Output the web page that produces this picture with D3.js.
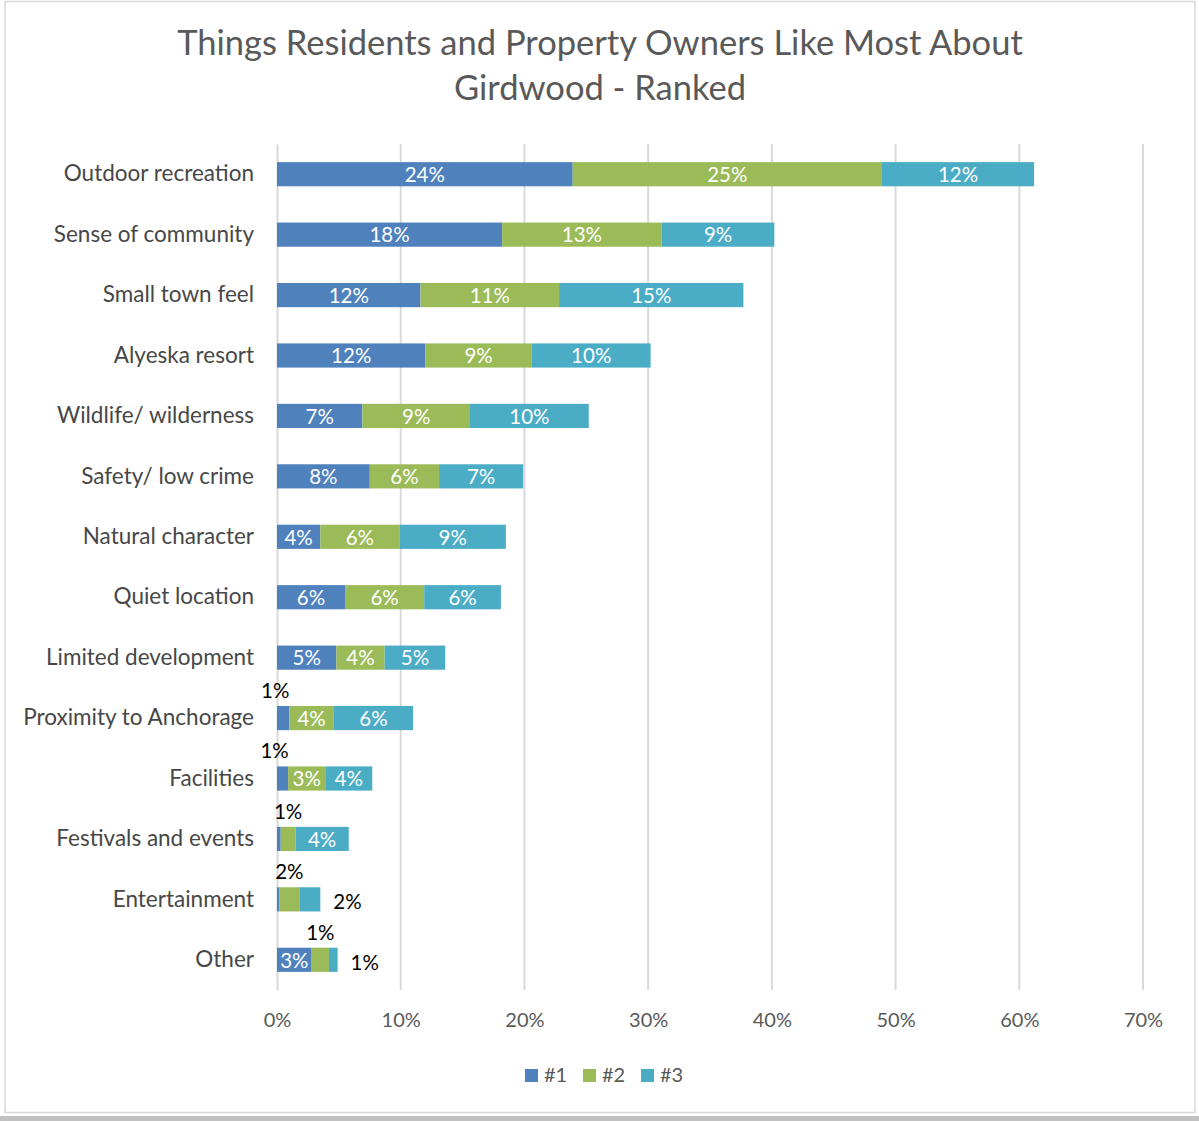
<!DOCTYPE html>
<html><head><meta charset="utf-8">
<script src="https://cdn.jsdelivr.net/npm/d3@7"></script>
<style>body{margin:0;background:#fff}svg{display:block}</style>
</head><body>
<script>
const categories = ["Outdoor recreation","Sense of community","Small town feel","Alyeska resort","Wildlife/ wilderness","Safety/ low crime","Natural character","Quiet location","Limited development","Proximity to Anchorage","Facilities","Festivals and events","Entertainment","Other"];
const seriesNames = ["#1","#2","#3"];
const rank1 = [23.9,18.2,11.6,12.0,6.9,7.5,3.5,5.5,4.8,1.0,0.9,0.3,0.2,2.8];
const rank2 = [25.0,12.9,11.2,8.6,8.7,5.6,6.4,6.4,3.9,3.6,3.0,1.2,1.6,1.4];
const rank3 = [12.3,9.1,14.9,9.6,9.6,6.8,8.6,6.2,4.9,6.4,3.8,4.3,1.7,0.7];
const xTicks = [0,10,20,30,40,50,60,70];
// label placement per series: "in" inside, "up" above, "right" after the bar, "none"
const labelMode1 = ["in","in","in","in","in","in","in","in","in","up","up","none","none","in"];
const labelMode2 = ["in","in","in","in","in","in","in","in","in","in","in","up","up","up"];
const labelMode3 = ["in","in","in","in","in","in","in","in","in","in","in","in","right","right"];

const W=1199,H=1121;
const colors=["#4F81BD","#9BBB59","#4BACC6"];
const font="Lato, 'Open Sans', sans-serif";
const svg=d3.select("body").append("svg").attr("width",W).attr("height",H);
svg.append("rect").attr("x",0).attr("y",0).attr("width",W).attr("height",H).attr("fill","#fff");
svg.append("rect").attr("x",5).attr("y",1.5).attr("width",1190).attr("height",1111).attr("fill","none").attr("stroke","#d9d9d9").attr("stroke-width",1.5);
svg.append("rect").attr("x",0).attr("y",1116).attr("width",W).attr("height",5).attr("fill","#c0c0c0");

const x=d3.scaleLinear().domain([0,70]).range([277,1143]);
const y=d3.scaleBand().domain(categories).range([144,990]).paddingInner(0.6).paddingOuter(0.3);

// title
const title=svg.append("text").attr("text-anchor","middle").attr("fill","#595959").attr("font-family",font).attr("font-size",34.5).attr("font-weight",400);
title.append("tspan").attr("x",600).attr("y",55).text("Things Residents and Property Owners Like Most About");
title.append("tspan").attr("x",600).attr("y",100).text("Girdwood - Ranked");

// gridlines
svg.append("g").selectAll("line").data(xTicks.slice(1)).join("line")
 .attr("x1",d=>x(d)).attr("x2",d=>x(d)).attr("y1",144).attr("y2",990)
 .attr("stroke","#d9d9d9").attr("stroke-width",2);

// x axis
const xAxis=svg.append("g").attr("transform","translate(0,1010)")
 .call(d3.axisBottom(x).tickValues(xTicks).tickFormat(d=>d+"%").tickSize(0));
xAxis.select(".domain").remove();
xAxis.selectAll("text").attr("font-family",font).attr("font-size",20).attr("fill","#595959");

// y axis
const yAxis=svg.append("g").attr("transform","translate(277,0)")
 .call(d3.axisLeft(y).tickSize(0).tickPadding(23));
yAxis.select(".domain").attr("stroke","#d9d9d9").attr("stroke-width",2);
yAxis.selectAll("text").attr("font-family",font).attr("font-size",22.5).attr("fill","#474747");

// stack
const table=categories.map((c,i)=>({cat:c,"#1":rank1[i],"#2":rank2[i],"#3":rank3[i]}));
const stack=d3.stack().keys(seriesNames)(table);
const modes=[labelMode1,labelMode2,labelMode3];
const bh=y.bandwidth();

const layers=svg.append("g").selectAll("g").data(stack).join("g").attr("fill",(d,i)=>colors[i]);
layers.selectAll("rect").data(d=>d).join("rect")
 .attr("x",d=>x(d[0])).attr("width",d=>x(d[1])-x(d[0]))
 .attr("y",d=>y(d.data.cat)).attr("height",bh);

// labels
const lab=svg.append("g").attr("font-family",font).attr("font-size",20.5);
stack.forEach((s,si)=>{
  s.forEach((d,i)=>{
    const m=modes[si][i];
    if(m==="none") return;
    const v=d[1]-d[0];
    const txt=Math.round(v)+"%";
    const cy=y(d.data.cat)+bh/2;
    const cx=(x(d[0])+x(d[1]))/2;
    if(m==="in"){
      lab.append("text").attr("x",cx).attr("y",cy).attr("dy","0.38em").attr("text-anchor","middle").attr("fill","#fff").text(txt);
    } else if(m==="up"){
      const nudge = si===0 ? -8 : 0;
      lab.append("text").attr("x",cx+nudge).attr("y",cy-28).attr("dy","0.38em").attr("text-anchor","middle").attr("fill","#000").text(txt);
    } else if(m==="right"){
      lab.append("text").attr("x",x(d[1])+13).attr("y",cy+2).attr("dy","0.38em").attr("text-anchor","start").attr("fill","#000").text(txt);
    }
  });
});

// legend
const leg=svg.append("g").attr("font-family",font).attr("font-size",20).attr("fill","#595959");
const lx=[525,583,641];
seriesNames.forEach((n,i)=>{
  leg.append("rect").attr("x",lx[i]).attr("y",1069).attr("width",13).attr("height",13).attr("fill",colors[i]);
  leg.append("text").attr("x",lx[i]+19).attr("y",1075).attr("dy","0.36em").attr("fill","#595959").text(n);
});
</script>
</body></html>
